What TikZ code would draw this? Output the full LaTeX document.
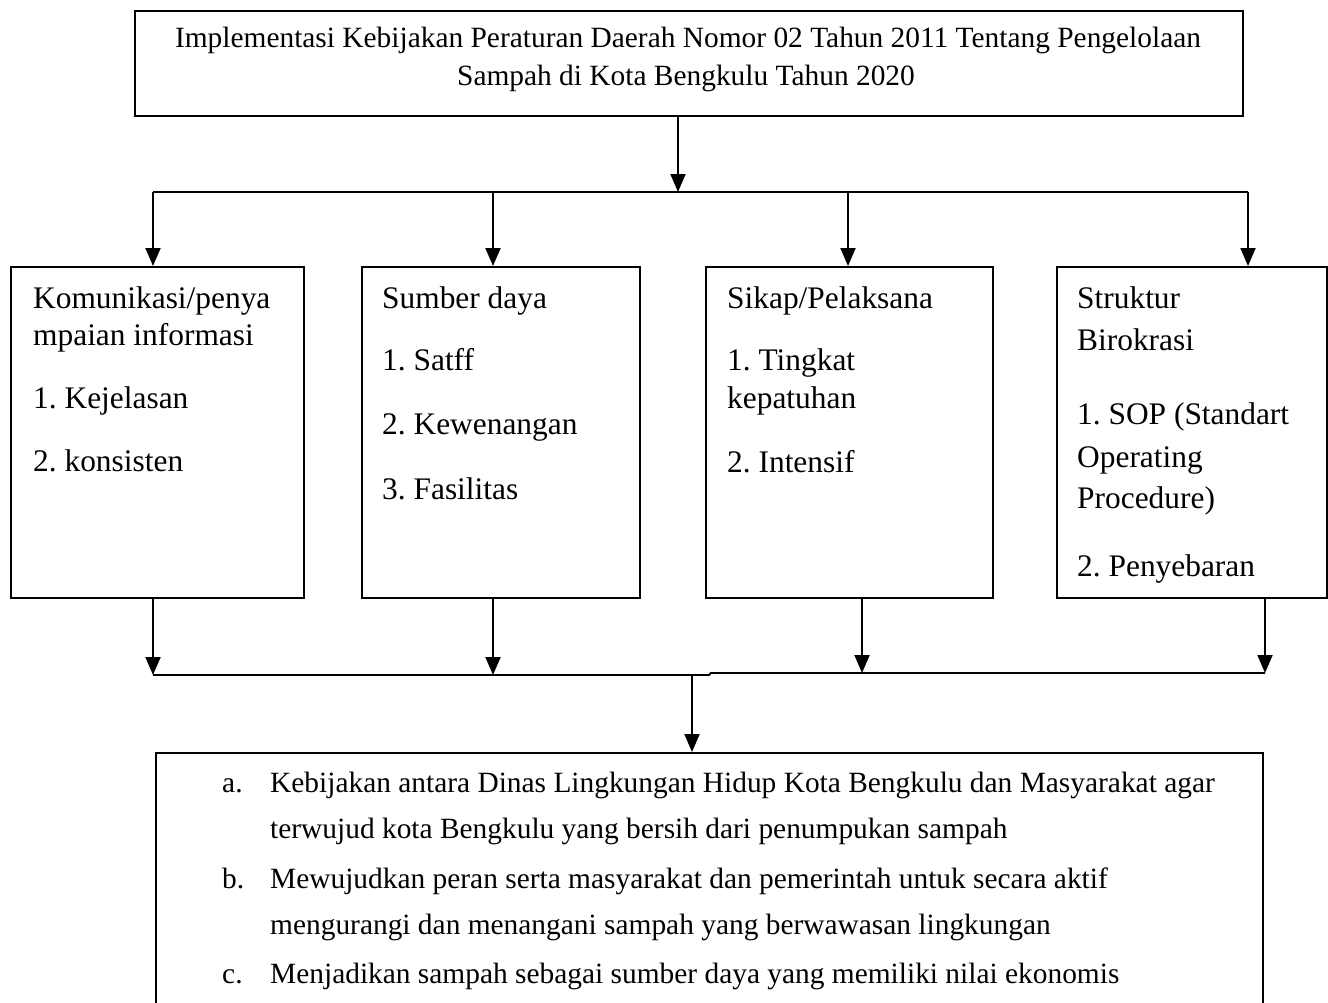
\documentclass[tikz,border=0pt]{standalone}
\usepackage{fontspec}
\setmainfont{Liberation Serif}
\usetikzlibrary{arrows.meta}
\frenchspacing
\begin{document}
\begin{tikzpicture}[x=1pt,y=-1pt,
 box/.style={draw,line width=1.8pt,inner sep=0pt,anchor=north west},
 arr/.style={line width=1.9pt,-{Triangle[length=18pt,width=15pt]}},
 ln/.style={line width=1.9pt},
 bt/.style={anchor=base west,inner sep=0pt,font=\fontsize{31.4}{36}\selectfont},
 st/.style={anchor=base west,inner sep=0pt,font=\fontsize{29.4}{34}\selectfont},
 ct/.style={anchor=base,inner sep=0pt,font=\fontsize{29.4}{34}\selectfont}]
\clip (0,0) rectangle (1328,1002);
% top box
\node[box,minimum width=1108pt,minimum height=105pt] (top) at (134,10) {};
\node[ct] (t1) at (688,47) {Implementasi Kebijakan Peraturan Daerah Nomor 02 Tahun 2011 Tentang Pengelolaan};
\node[ct] (t2) at (686,85) {Sampah di Kota Bengkulu Tahun 2020};
% four boxes
\node[box,minimum width=293pt,minimum height=331pt] (b1) at (10,266) {};
\node[box,minimum width=278pt,minimum height=331pt] (b2) at (361,266) {};
\node[box,minimum width=287pt,minimum height=331pt] (b3) at (705,266) {};
\node[box,minimum width=270pt,minimum height=331pt] (b4) at (1056,266) {};
% box texts
\node[bt] (b1l1) at (33,308) {Komunikasi/penya};
\node[bt] (b1l2) at (33,345) {mpaian informasi};
\node[bt] (b1l3) at (33,408) {1. Kejelasan};
\node[bt] (b1l4) at (33,471) {2. konsisten};
\node[bt] (b2l1) at (382,308) {Sumber daya};
\node[bt] (b2l2) at (382,370) {1. Satff};
\node[bt] (b2l3) at (382,434) {2. Kewenangan};
\node[bt] (b2l4) at (382,499) {3. Fasilitas};
\node[bt] (b3l1) at (727,308) {Sikap/Pelaksana};
\node[bt] (b3l2) at (727,370) {1. Tingkat};
\node[bt] (b3l3) at (727,408) {kepatuhan};
\node[bt] (b3l4) at (727,472) {2. Intensif};
\node[bt] (b4l1) at (1077,308) {Struktur};
\node[bt] (b4l2) at (1077,350) {Birokrasi};
\node[bt] (b4l3) at (1077,424) {1. SOP (Standart};
\node[bt] (b4l4) at (1077,467) {Operating};
\node[bt] (b4l5) at (1077,508) {Procedure)};
\node[bt] (b4l6) at (1077,576) {2. Penyebaran};
% bottom box
\node[box,minimum width=1107pt,minimum height=320pt] (bot) at (155,752) {};
\node[st] (la) at (222,792) {a.};
\node[st] (ta1) at (270,792) {Kebijakan antara Dinas Lingkungan Hidup Kota Bengkulu dan Masyarakat agar};
\node[st] (ta2) at (270,838) {terwujud kota Bengkulu yang bersih dari penumpukan sampah};
\node[st] (lb) at (222,888) {b.};
\node[st] (tb1) at (270,888) {Mewujudkan peran serta masyarakat dan pemerintah untuk secara aktif};
\node[st] (tb2) at (270,934) {mengurangi dan menangani sampah yang berwawasan lingkungan};
\node[st] (lc) at (222,983) {c.};
\node[st] (tc1) at (270,983) {Menjadikan sampah sebagai sumber daya yang memiliki nilai ekonomis};
% upper connectors
\coordinate (s) at (678,192);
\coordinate (j1) at (153,192);
\coordinate (j2) at (493,192);
\coordinate (j3) at (848,192);
\coordinate (j4) at (1248,192);
\draw[arr] (top.south -| s) -- (s);
\draw[ln] (j1) -- (j4);
\draw[arr] (j1) -- (j1 |- b1.north);
\draw[arr] (j2) -- (j2 |- b2.north);
\draw[arr] (j3) -- (j3 |- b3.north);
\draw[arr] (j4) -- (j4 |- b4.north);
% lower connectors
\coordinate (k1) at (153,675);
\coordinate (k2) at (493,675);
\coordinate (k3) at (862,673);
\coordinate (k4) at (1265,673);
\coordinate (m1) at (709,675);
\coordinate (m2) at (711,673);
\coordinate (kd) at (692,675);
\draw[arr] (b1.south -| k1) -- (k1);
\draw[arr] (b2.south -| k2) -- (k2);
\draw[arr] (b3.south -| k3) -- (k3);
\draw[arr] (b4.south -| k4) -- (k4);
\draw[ln] (k1) -- (m1) -- (m2) -- (k4);
\draw[arr] (kd) -- (kd |- bot.north);
\end{tikzpicture}
\end{document}
